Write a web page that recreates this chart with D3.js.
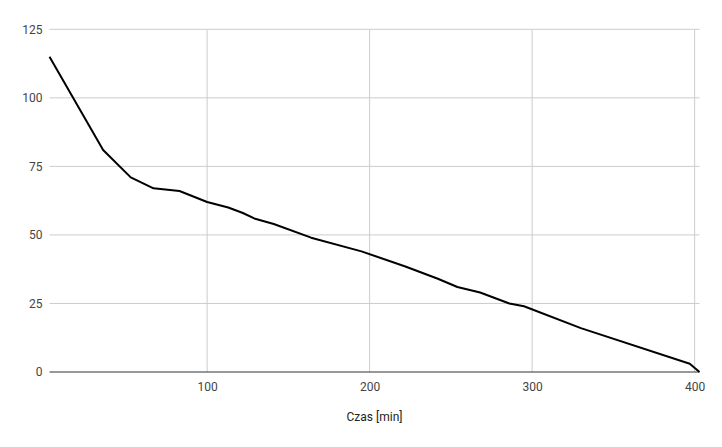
<!DOCTYPE html>
<html>
<head>
<meta charset="utf-8">
<script src="https://cdn.jsdelivr.net/npm/d3@7"></script>
<style>
  html, body { margin: 0; padding: 0; background: #fff; }
  svg { display: block; font-family: Roboto, Arial, sans-serif; }
</style>
</head>
<body>
<svg id="chart" width="722" height="447"></svg>
<script>
const timeMin = [3, 36, 53, 67, 83, 100, 113, 122, 129, 141, 164, 195, 222, 242, 254, 268, 286, 295, 330, 397, 403];
const values  = [115, 81, 71, 67, 66, 62, 60, 58, 56, 54, 49, 44, 38.5, 34, 31, 29, 25, 24, 16, 3, 0];
const xTicks = [100, 200, 300, 400];
const yTicks = [0, 25, 50, 75, 100, 125];
const xTitle = "Czas [min]";

const svg = d3.select("#chart");
const x = d3.scaleLinear().domain([timeMin[0], timeMin[timeMin.length - 1]]).range([49.5, 699.5]);
const y = d3.scaleLinear().domain([0, 125]).range([372, 29.3]);

// horizontal gridlines
svg.append("g").selectAll("line").data(yTicks.filter(d => d !== 0)).join("line")
  .attr("x1", x.range()[0]).attr("x2", x.range()[1])
  .attr("y1", d => y(d)).attr("y2", d => y(d))
  .attr("stroke", "#cccccc").attr("stroke-width", 1);

// vertical gridlines
svg.append("g").selectAll("line").data(xTicks).join("line")
  .attr("x1", d => x(d)).attr("x2", d => x(d))
  .attr("y1", y(125)).attr("y2", y(0))
  .attr("stroke", "#cccccc").attr("stroke-width", 1);

// y axis labels
const yAxis = d3.axisLeft(y).tickValues(yTicks).tickSize(0).tickPadding(7);
const gy = svg.append("g").attr("transform", `translate(${x.range()[0]},0)`).call(yAxis);
gy.select(".domain").remove();
gy.selectAll("text").attr("fill", "#444").attr("font-size", 12).attr("font-family", "Roboto, Arial, sans-serif");

// x axis labels
const xAxis = d3.axisBottom(x).tickValues(xTicks).tickSize(0).tickPadding(10);
const gx = svg.append("g").attr("transform", `translate(0,${y(0)})`).call(xAxis);
gx.select(".domain").remove();
gx.selectAll("text").attr("fill", "#444").attr("font-size", 12).attr("font-family", "Roboto, Arial, sans-serif");

// baseline
svg.append("line")
  .attr("x1", x.range()[0]).attr("x2", x.range()[1])
  .attr("y1", y(0)).attr("y2", y(0))
  .attr("stroke", "#333").attr("stroke-width", 1.2);

// line
const pts = timeMin.map((t, i) => [t, values[i]]);
svg.append("path")
  .datum(pts)
  .attr("fill", "none")
  .attr("stroke", "#000")
  .attr("stroke-width", 2)
  .attr("stroke-linejoin", "round")
  .attr("d", d3.line().x(d => x(d[0])).y(d => y(d[1])));

// x title
svg.append("text")
  .attr("x", 374.5).attr("y", 421)
  .attr("text-anchor", "middle")
  .attr("fill", "#222").attr("font-size", 12)
  .text(xTitle);
</script>
</body>
</html>
